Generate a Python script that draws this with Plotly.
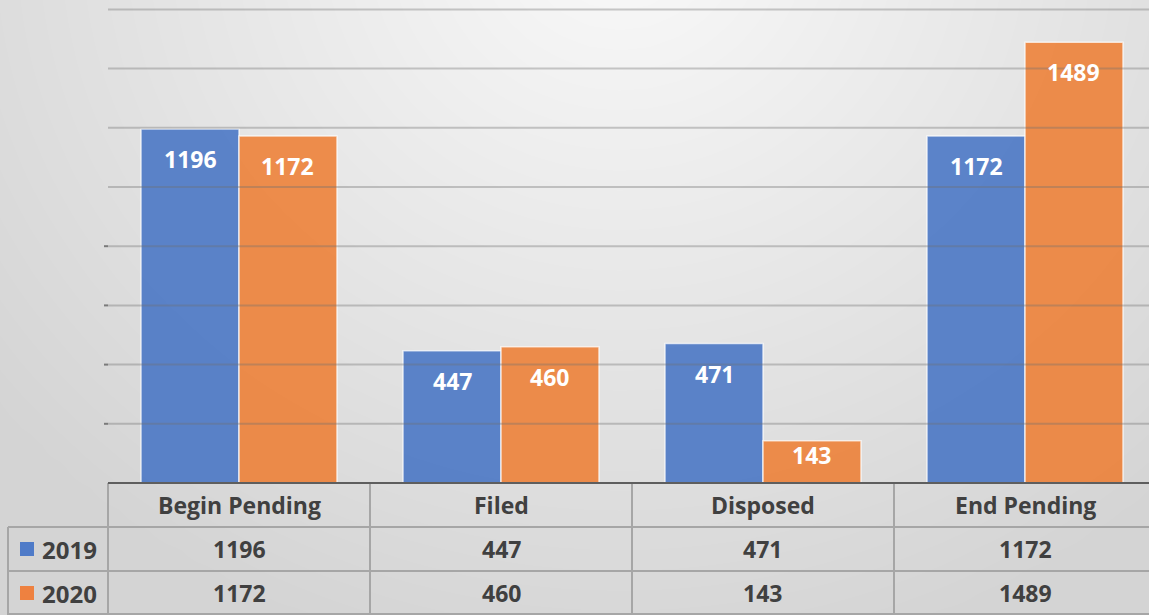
import numpy as np
import plotly.graph_objects as go

categories = ["Begin Pending", "Filed", "Disposed", "End Pending"]
series_names = ["2019", "2020"]
values_2019 = [1196, 447, 471, 1172]
values_2020 = [1172, 460, 143, 1489]
grid_ticks = [200, 400, 600, 800, 1000, 1200, 1400, 1600]

W, H = 1149, 615
CAT_PX = 262.0          # width of one category in px
PX_PER_UNIT = 0.296     # vertical px per value unit
PLOT_LEFT = 108         # px
BASE_Y = 483            # px from top of the zero line

xmin = -0.5 - PLOT_LEFT / CAT_PX
xmax = xmin + W / CAT_PX
ymin = -(H - BASE_Y) / PX_PER_UNIT
ymax = BASE_Y / PX_PER_UNIT

def px2x(px):
    return xmin + px / CAT_PX

def py2y(py):
    return (BASE_Y - py) / PX_PER_UNIT

def pxp(px):
    return px / W

def pyp(py):
    return 1 - py / H

blue = "rgba(68,114,196,0.86)"
orange = "rgba(237,125,49,0.86)"
text_col = "#404040"
FONT = "Open Sans"

fig = go.Figure()

# background gradient
gx = np.linspace(0, W, 40)
gy = np.linspace(0, H, 30)
GX, GY = np.meshgrid(gx, gy)
d = np.sqrt(((GX - 620) / 680) ** 2 + ((GY + 60) / 620) ** 2)
L = np.clip(249 - 31 * d, 212, 249)
fig.add_trace(go.Heatmap(
    x=[px2x(v) for v in gx], y=[py2y(v) for v in gy], z=L,
    colorscale=[[0, "rgb(200,200,200)"], [1, "rgb(255,255,255)"]],
    zmin=200, zmax=255, zsmooth="best", showscale=False, hoverinfo="skip"))

# gridlines
gxs, gys = [], []
for t in grid_ticks:
    gxs += [px2x(PLOT_LEFT), xmax, None]
    gys += [t, t, None]
fig.add_trace(go.Scatter(x=gxs, y=gys, mode="lines",
                         line=dict(color="rgba(110,110,110,0.36)", width=2),
                         hoverinfo="skip", showlegend=False))

xpos = list(range(len(categories)))
for name, vals, col in [(series_names[0], values_2019, blue), (series_names[1], values_2020, orange)]:
    fig.add_trace(go.Bar(x=xpos, y=vals, name=name, marker=dict(color=col,
                         line=dict(color="rgba(255,255,255,0.7)", width=1.5)),
                         showlegend=False))

annotations = []
shapes = []
bar_half = CAT_PX * (1 - 0.252) / 4
for vals, sgn in [(values_2019, -1), (values_2020, 1)]:
    for i, v in enumerate(vals):
        hpx = v * PX_PER_UNIT
        shift = -30 if hpx > 70 else -14
        annotations.append(dict(x=i, y=v, xref="x", yref="y", text=str(v), showarrow=False,
                                xanchor="center", yanchor="middle",
                                xshift=sgn * bar_half, yshift=shift,
                                font=dict(family=FONT, size=23, color="white", weight="bold")))

# table lines
grid_col = "#a6a6a6"
def line(x0, y0, x1, y1, color=grid_col, width=2):
    shapes.append(dict(type="line", xref="paper", yref="paper",
                       x0=pxp(x0), y0=pyp(y0), x1=pxp(x1), y1=pyp(y1),
                       line=dict(color=color, width=width), layer="above"))

line(8, 527, W, 527)
line(8, 571, W, 571)
line(8, 614, W, 614)
line(8, 527, 8, 615)
for i in range(len(categories)):
    xb = PLOT_LEFT + i * CAT_PX
    line(xb, BASE_Y, xb, 615)
line(PLOT_LEFT, BASE_Y, W, BASE_Y, color="#5e5e5e", width=2)
# y-axis tick marks
for t in grid_ticks[:4]:
    py = BASE_Y - t * PX_PER_UNIT
    line(PLOT_LEFT - 4, py, PLOT_LEFT, py, color="#7a7a7a", width=2)

# header and rows text
row_y = [505, 549, 593]
def cell_text(cx, cy, txt, size=23, anchor="center"):
    annotations.append(dict(x=pxp(cx), y=pyp(cy), xref="paper", yref="paper", text=txt,
                            xanchor=anchor, yanchor="middle", showarrow=False,
                            font=dict(family=FONT, size=size, color=text_col, weight="bold")))

for i, c in enumerate(categories):
    cx = PLOT_LEFT + (i + 0.5) * CAT_PX
    cell_text(cx, row_y[0], c)
    cell_text(cx, row_y[1], str(values_2019[i]))
    cell_text(cx, row_y[2], str(values_2020[i]))

for name, col, ry in [(series_names[0], "#4f7bc8", row_y[1]), (series_names[1], "#ee8140", row_y[2])]:
    shapes.append(dict(type="rect", xref="paper", yref="paper",
                       x0=pxp(20), x1=pxp(34), y0=pyp(ry - 7), y1=pyp(ry + 7),
                       fillcolor=col, line=dict(width=0), layer="above"))
    cell_text(40, ry, name, size=24, anchor="left")

fig.update_layout(
    width=W, height=H, margin=dict(l=0, r=0, t=0, b=0),
    paper_bgcolor="#e4e4e4", plot_bgcolor="#e4e4e4",
    barmode="group", bargap=0.252, bargroupgap=0,
    xaxis=dict(range=[xmin, xmax], domain=[0, 1], showgrid=False, zeroline=False,
               showticklabels=False, ticks="", fixedrange=True),
    yaxis=dict(range=[ymin, ymax], domain=[0, 1], showgrid=False, zeroline=False,
               showticklabels=False, ticks="", fixedrange=True),
    shapes=shapes, annotations=annotations, showlegend=False,
)

fig.write_html("out.html", config={"displayModeBar": False},
               post_script="document.body.style.margin='0';document.body.style.overflow='hidden';")
